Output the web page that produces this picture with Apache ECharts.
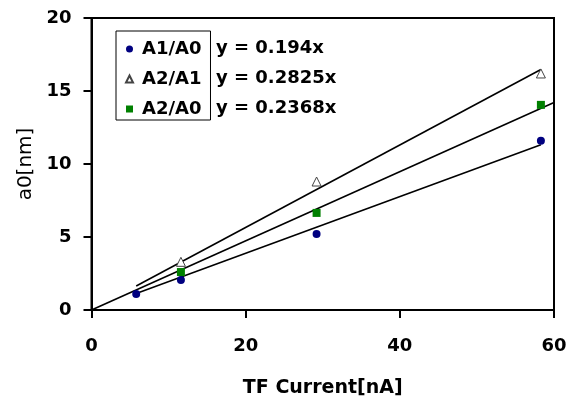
<!DOCTYPE html>
<html>
<head>
<meta charset="utf-8">
<script src="https://cdn.jsdelivr.net/npm/echarts@6/dist/echarts.min.js"></script>
<style>
html,body{margin:0;padding:0;background:#fff;}
#chart{width:574px;height:398px;}
</style>
</head>
<body>
<div id="chart"></div>
<script>
// ---- data ----
var seriesNames = ['A1/A0', 'A2/A1', 'A2/A0'];
var xA1A0 = [5.8, 11.6, 29.2, 58.3];
var yA1A0 = [1.1, 2.05, 5.2, 11.6];
var xA2A1 = [11.6, 29.2, 58.3];
var yA2A1 = [3.3, 8.8, 16.2];
var xA2A0 = [11.6, 29.2, 58.3];
var yA2A0 = [2.6, 6.65, 14.05];
var slopes = [0.194, 0.2825, 0.2368];
var trendFrom = [5.8, 5.8, 0];
var trendTo = [58.3, 58.3, 60];
var xTicks = [0, 20, 40, 60];
var yTicks = [0, 5, 10, 15, 20];

function pairs(xs, ys) { return xs.map(function (x, i) { return [x, ys[i]]; }); }
function trend(i) { return [[trendFrom[i], slopes[i] * trendFrom[i]], [trendTo[i], slopes[i] * trendTo[i]]]; }

var FONT = 'DejaVu Sans';
var colors = ['#000080', '#ffffff', '#008000'];

var chart = echarts.init(document.getElementById('chart'), null, {renderer: 'canvas'});
var trendSeries = [0, 1, 2].map(function (i) {
  return {
    name: 'trend' + i, type: 'line', data: trend(i), showSymbol: false, silent: true,
    lineStyle: {color: '#000', width: 1.6}, z: 1, animation: false
  };
});
var option = {
  backgroundColor: '#fff',
  animation: false,
  grid: {left: 91.5, right: 20, top: 18, bottom: 88, show: true, borderColor: '#000', borderWidth: 2,
         backgroundColor: 'transparent', containLabel: false, outerBoundsMode: 'none'},
  xAxis: {
    type: 'value', min: xTicks[0], max: xTicks[xTicks.length - 1], interval: 20,
    name: 'TF Current[nA]', nameLocation: 'middle', nameGap: 69,
    nameTextStyle: {fontFamily: FONT, fontWeight: 'bold', fontSize: 19, color: '#000'},
    axisLine: {lineStyle: {color: '#000', width: 2}},
    axisTick: {show: true, length: 8, inside: false, lineStyle: {color: '#000', width: 2}},
    axisLabel: {fontFamily: FONT, fontWeight: 'bold', fontSize: 18, color: '#000', margin: 27},
    splitLine: {show: false}
  },
  yAxis: {
    type: 'value', min: yTicks[0], max: yTicks[yTicks.length - 1], interval: 5,
    name: 'a0[nm]', nameLocation: 'middle', nameGap: 56,
    nameTextStyle: {fontFamily: FONT, fontSize: 20, color: '#000'},
    axisLine: {lineStyle: {color: '#000', width: 2}},
    axisTick: {show: true, length: 8, inside: false, lineStyle: {color: '#000', width: 2}},
    axisLabel: {fontFamily: FONT, fontWeight: 'bold', fontSize: 18, color: '#000', margin: 20},
    splitLine: {show: false}
  },
  legend: {
    orient: 'vertical', left: 116, top: 31,
    data: [
      {name: seriesNames[0], icon: 'circle'},
      {name: seriesNames[1], icon: 'triangle'},
      {name: seriesNames[2], icon: 'rect'}
    ],
    itemWidth: 7, itemHeight: 7, itemGap: 10,
    padding: [8, 9, 1, 9],
    borderColor: '#000', borderWidth: 1, borderRadius: 0, backgroundColor: '#fff',
    textStyle: {fontFamily: FONT, fontWeight: 'bold', fontSize: 18, color: '#000', lineHeight: 20, padding: [0, 0, 0, 4]},
    selectedMode: false
  },
  graphic: slopes.map(function (s, i) {
    return {
      type: 'text', left: 216, top: 39 + i * 30,
      style: {text: 'y = ' + s + 'x', font: 'bold 18px "DejaVu Sans"', fill: '#000'}
    };
  }),
  series: trendSeries.concat([
    {name: seriesNames[0], type: 'scatter', data: pairs(xA1A0, yA1A0), symbol: 'circle', symbolSize: 8,
     itemStyle: {color: colors[0], opacity: 1}, z: 3},
    {name: seriesNames[1], type: 'scatter', data: pairs(xA2A1, yA2A1), symbol: 'triangle', symbolSize: 9,
     itemStyle: {color: '#fff', borderColor: '#444', borderWidth: 1, opacity: 1}, z: 3},
    {name: seriesNames[2], type: 'scatter', data: pairs(xA2A0, yA2A0), symbol: 'rect', symbolSize: 8,
     itemStyle: {color: colors[2], opacity: 1}, z: 3}
  ])
};
chart.setOption(option);
</script>
</body>
</html>
